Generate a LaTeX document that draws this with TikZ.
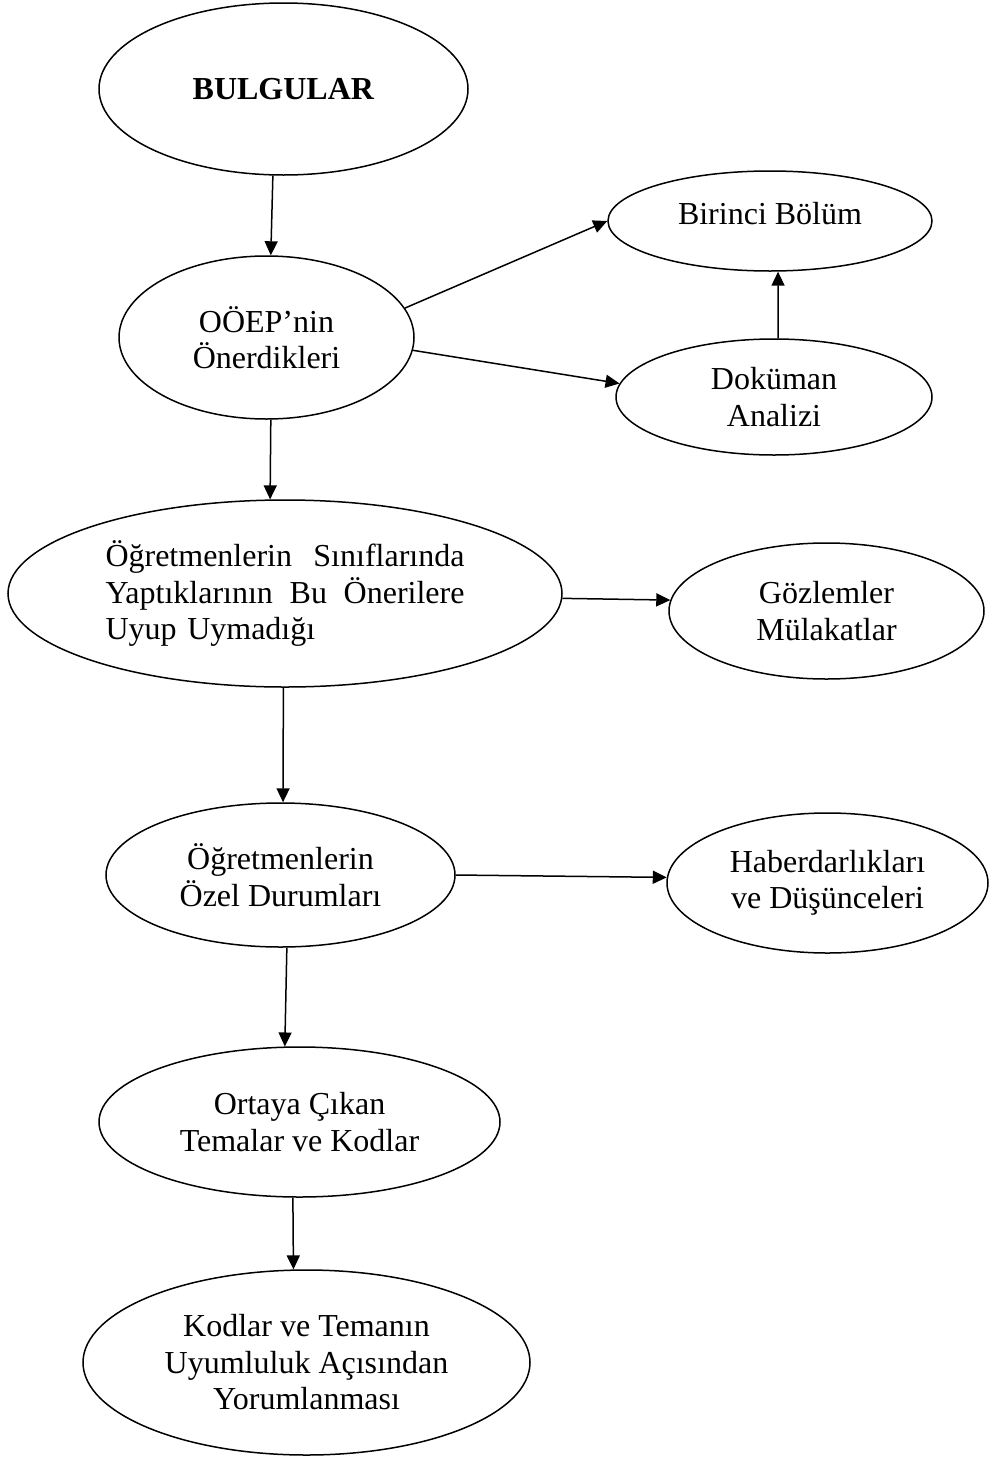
\documentclass[tikz,border=0pt]{standalone}
\usepackage{fontspec}
\setmainfont{Liberation Serif}
\usetikzlibrary{shapes.geometric,arrows.meta}
\begin{document}
\begin{tikzpicture}[x=1pt,y=-1pt,
  el/.style={draw, ellipse, line width=1.5pt, inner sep=0pt, align=center,
    font=\fontsize{32}{36.5}\selectfont},
  arr/.style={line width=1.5pt, -{Triangle[width=13pt,length=14pt]}}]
\useasboundingbox (0,0) rectangle (990,1459);
\fill[white] (0,0) rectangle (990,1459);

\node[el, minimum width=369pt, minimum height=172pt] (bul) at (283.5,89) {\textbf{BULGULAR}};
\node[el, minimum width=295pt, minimum height=163pt] (oep) at (266.5,337.5) {OÖEP’nin\\Önerdikleri};
\node[el, minimum width=324pt, minimum height=100pt, text height=23pt, text depth=17pt] (bir) at (770,221) {Birinci Bölüm};
\node[el, minimum width=316pt, minimum height=116pt] (dok) at (774,397) {Doküman\\Analizi};
\node[el, minimum width=554pt, minimum height=187pt, text width=359pt, align=left] (ogr) at (285,593.5)
  {Öğretmenlerin\hfill Sınıflarında\\Yaptıklarının\hfill Bu\hfill Önerilere\\Uyup Uymadığı};
\node[el, minimum width=315pt, minimum height=136pt] (goz) at (826.5,611) {Gözlemler\\Mülakatlar};
\node[el, minimum width=349pt, minimum height=144pt] (ozel) at (280.5,875) {Öğretmenlerin\\Özel Durumları};
\node[el, minimum width=321pt, minimum height=140pt] (hab) at (827.5,883) {Haberdarlıkları\\ve Düşünceleri};
\node[el, minimum width=401pt, minimum height=150pt] (ort) at (299.5,1122) {Ortaya Çıkan\\Temalar ve Kodlar};
\node[el, minimum width=447pt, minimum height=185pt] (kod) at (306.5,1362.5) {Kodlar ve Temanın\\Uyumluluk Açısından\\Yorumlanması};

\draw[arr] (bul.-97.8) -- (oep.87.5);
\draw[arr] (oep.12.9) -- (bir.180);
\draw[arr] (oep.-5.3) -- (dok.175.5);
\draw[arr] (dok.86) -- (bir.-81);
\draw[arr] (oep.-87.5) -- (ogr.99.1);
\draw[arr] (ogr.-1.76) -- (goz.176.7);
\draw[arr] (ogr.-91.8) -- (ozel.88.8);
\draw[arr] (ozel.0.6) -- (hab.178.9);
\draw[arr] (ozel.-85.8) -- (ort.101.7);
\draw[arr] (ort.-95.7) -- (kod.98.9);
\end{tikzpicture}
\end{document}
